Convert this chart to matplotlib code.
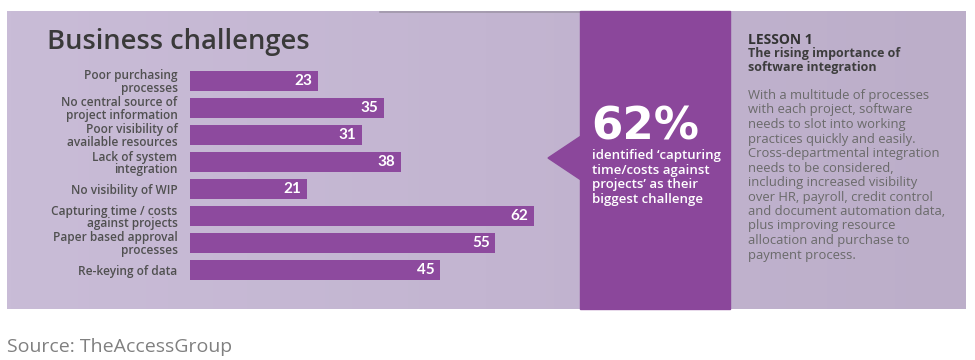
import numpy as np
import matplotlib.pyplot as plt
from matplotlib.patches import Rectangle, Polygon
from matplotlib.colors import LinearSegmentedColormap

categories = [
    "Poor purchasing\nprocesses",
    "No central source of\nproject information",
    "Poor visibility of\navailable resources",
    "Lack of system\nintegration",
    "No visibility of WIP",
    "Capturing time / costs\nagainst projects",
    "Paper based approval\nprocesses",
    "Re-keying of data",
]
values = [23, 35, 31, 38, 21, 62, 55, 45]

highlight = "62%"
highlight_note = "identified \u2018capturing\ntime/costs against\nprojects\u2019 as their\nbiggest challenge"
lesson_title = "LESSON 1"
lesson_sub = "The rising importance of\nsoftware integration"
lesson_body = ("With a multitude of processes\nwith each project, software\n"
               "needs to slot into working\npractices quickly and easily.\n"
               "Cross-departmental integration\nneeds to be considered,\n"
               "including increased visibility\nover HR, payroll, credit control\n"
               "and document automation data,\nplus improving resource\n"
               "allocation and purchase to\npayment process.")

W, H = 975, 360
bar_color = "#8d4a9e"
col_color = "#8b479b"

fig = plt.figure(figsize=(W / 100, H / 100), dpi=100)
fig.patch.set_facecolor("white")

# decoration layer in pixel coordinates
bg = fig.add_axes([0, 0, 1, 1])
bg.axis("off")

grad = np.linspace(0, 1, 256).reshape(1, -1)
cmap = LinearSegmentedColormap.from_list("bgpanel", ["#c9bcd7", "#c3b5d1", "#bcaec9"])
bg.imshow(grad, cmap=cmap, extent=[7, 966, 309, 11], aspect="auto", zorder=0)
bg.set_xlim(0, W)
bg.set_ylim(H, 0)
bg.plot([380, 580], [11.5, 11.5], color="#8a8490", lw=1.2, alpha=0.6, zorder=1)

bg.add_patch(Rectangle((580, 11), 150, 298, color=col_color, zorder=2))
bg.add_patch(Polygon([(548, 158), (581, 136), (581, 180)], closed=True, color=col_color, zorder=2))

bg.text(47, 49, "Business challenges", fontsize=19.7, fontweight="semibold",
        family="Open Sans", color="#3a3a3a", va="baseline", ha="left")

bg.text(591, 139, highlight, fontsize=32.5, fontweight="bold", family="DejaVu Sans",
        color="white", va="baseline", ha="left")
bg.text(592, 149, highlight_note, fontsize=9.5, fontweight="semibold", family="Open Sans",
        color="white", va="top", ha="left", linespacing=1.17)

bg.text(748, 33, lesson_title, fontsize=10, fontweight="bold", family="Open Sans",
        color="#333333", va="top", ha="left")
bg.text(748, 47, lesson_sub, fontsize=9, fontweight="bold", family="Open Sans",
        color="#3d3d3d", va="top", ha="left", linespacing=1.15)
bg.text(748, 89, lesson_body, fontsize=9.4, family="Open Sans",
        color="#6a6a6a", va="top", ha="left", linespacing=1.15)

bg.text(7, 347, "Source: TheAccessGroup", fontsize=14, family="Open Sans",
        color="#808080", va="center", ha="left")

# bar chart layer
px_per_unit = 5.55
x_max = 70
top_px, step = 81 - 13.5, 27
ax = fig.add_axes([190 / W, 1 - (top_px + step * len(values)) / H,
                   x_max * px_per_unit / W, step * len(values) / H])
ax.patch.set_alpha(0)
y = np.arange(len(values))
ax.barh(y, values, height=0.74, color=bar_color)
for yi, v in zip(y, values):
    ax.text(v - 1.0, yi, str(v), color="white", fontsize=11, fontweight="bold",
            family="Lato", ha="right", va="center")
ax.set_xlim(0, x_max)
ax.set_ylim(len(values) - 0.5, -0.5)
ax.set_yticks(y)
ax.set_yticklabels(categories, fontsize=8.6, fontweight="semibold", family="Open Sans",
                   color="#505050", linespacing=0.92)
ax.tick_params(axis="y", length=0, pad=9)
ax.set_xticks([])
for s in ax.spines.values():
    s.set_visible(False)

fig.savefig("out.png", dpi=100)
